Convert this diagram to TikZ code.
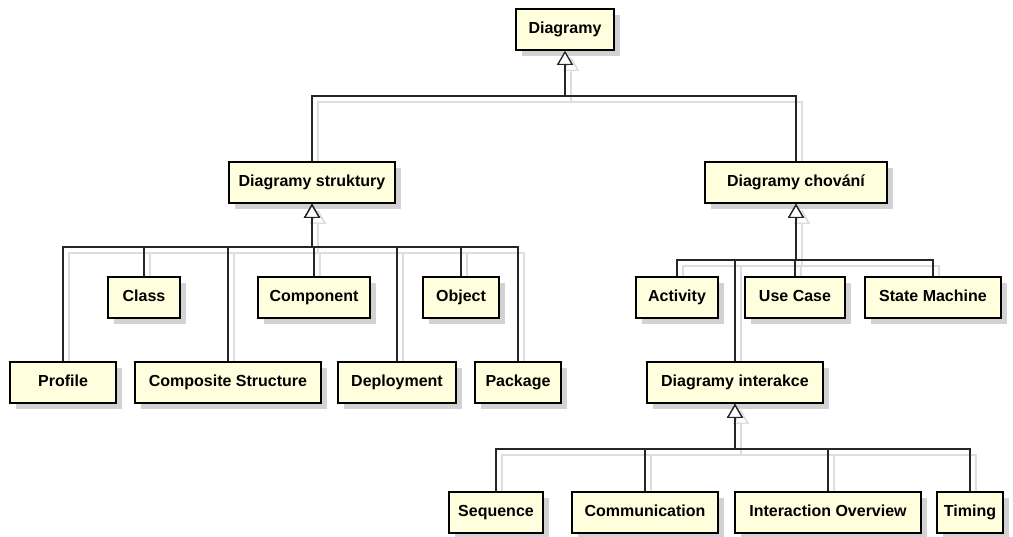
\documentclass[tikz,border=0pt]{standalone}
\usepackage{fontspec}
\setmainfont{Liberation Sans}
\usetikzlibrary{arrows.meta,shadows,backgrounds}
\definecolor{umlfill}{RGB}{255,255,222}
\definecolor{umlshade}{RGB}{210,210,210}
\definecolor{lineshade}{RGB}{222,222,222}
% generalization: child -- up by #2 -- across -- parent, with its grey shadow
\newcommand{\umlgen}[3]{%
  \begin{pgfonlayer}{background}
    \draw[genshade] (#1.north) -- ++(0,-#2) -| (#3.south);
  \end{pgfonlayer}
  \draw[gen] (#1.north) -- ++(0,-#2) -| (#3.south);}
\begin{document}
\begin{tikzpicture}[x=1pt,y=-1pt,
    box/.style={draw=black,line width=2pt,fill=umlfill,minimum height=41pt,inner sep=0pt,
      text height=12pt,text depth=3.5pt,
      font=\fontsize{16}{19}\selectfont\bfseries,
      drop shadow={shadow xshift=6pt,shadow yshift=-6pt,fill=umlshade,opacity=1}},
    gen/.style={draw=black!85,line width=1.2pt,-{Triangle[open,length=14pt,width=16pt,fill=white]}},
    genshade/.style={draw=lineshade,line width=1.2pt,transform canvas={shift={(6pt,-6pt)}},
      -{Triangle[open,length=14pt,width=16pt]}}]
\useasboundingbox (0,0) rectangle (1013,537);
% top
\node[box,minimum width=98pt] (dia) at (565,29.5) {Diagramy};
\node[box,minimum width=166pt] (struk) at (312,182.5) {Diagramy struktury};
\node[box,minimum width=182pt] (chov) at (796,182.5) {Diagramy chování};
% structure diagrams
\node[box,minimum width=72pt] (cls) at (144,297.5) {Class};
\node[box,minimum width=112pt] (comp) at (314,297.5) {Component};
\node[box,minimum width=76pt] (obj) at (461,297.5) {Object};
\node[box,minimum width=106pt] (prof) at (63,382.5) {Profile};
\node[box,minimum width=186pt] (comps) at (228,382.5) {Composite Structure};
\node[box,minimum width=118pt] (depl) at (397,382.5) {Deployment};
\node[box,minimum width=86pt] (pkg) at (518,382.5) {Package};
% behaviour diagrams
\node[box,minimum width=82pt] (act) at (677,297.5) {Activity};
\node[box,minimum width=100pt] (usec) at (795,297.5) {Use Case};
\node[box,minimum width=136pt] (stm) at (933,297.5) {State Machine};
\node[box,minimum width=176pt] (inter) at (735,382.5) {Diagramy interakce};
% interaction diagrams
\node[box,minimum width=94pt] (seq) at (496,512.5) {Sequence};
\node[box,minimum width=146pt] (comm) at (645,512.5) {Communication};
\node[box,minimum width=186pt] (iov) at (828,512.5) {Interaction Overview};
\node[box,minimum width=66pt] (tim) at (970,512.5) {Timing};
% connectors
\umlgen{struk}{65}{dia}
\umlgen{chov}{65}{dia}
\umlgen{cls}{29}{struk}
\umlgen{comp}{29}{struk}
\umlgen{obj}{29}{struk}
\umlgen{prof}{114}{struk}
\umlgen{comps}{114}{struk}
\umlgen{depl}{114}{struk}
\umlgen{pkg}{114}{struk}
\umlgen{act}{16}{chov}
\umlgen{usec}{16}{chov}
\umlgen{stm}{16}{chov}
\umlgen{inter}{101}{chov}
\umlgen{seq}{42}{inter}
\umlgen{comm}{42}{inter}
\umlgen{iov}{42}{inter}
\umlgen{tim}{42}{inter}
\end{tikzpicture}
\end{document}
